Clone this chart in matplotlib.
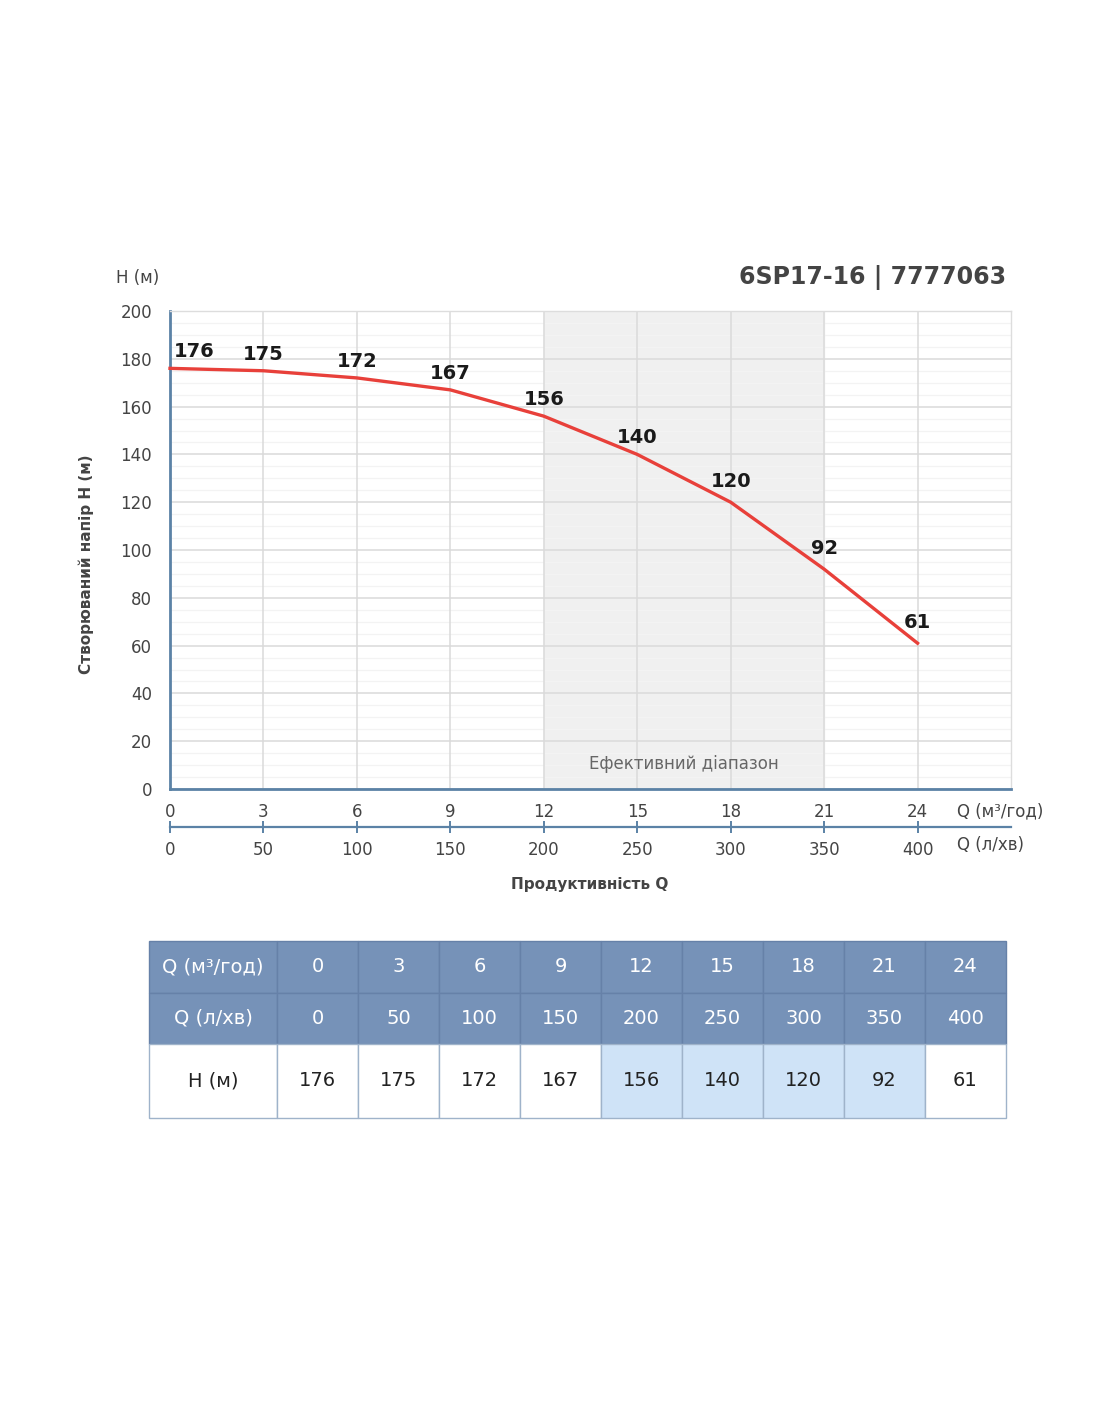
import matplotlib
matplotlib.use("Agg")
import matplotlib.pyplot as plt
from matplotlib.patches import Rectangle

plt.rcParams['font.family'] = ['DejaVu Sans']

# data
q_m3h = [0, 3, 6, 9, 12, 15, 18, 21, 24]
q_lmin = [0, 50, 100, 150, 200, 250, 300, 350, 400]
head_m = [176, 175, 172, 167, 156, 140, 120, 92, 61]
eff_range = (12, 21)  # efficient range in m3/h
title = "6SP17-16 | 7777063"

W, H = 1100, 1422
fig = plt.figure(figsize=(W / 100, H / 100), dpi=100)

def px_axes(left, top, right, bottom):
    return fig.add_axes([left / W, 1 - bottom / H, (right - left) / W, (bottom - top) / H])

axis_blue = '#5b82a6'
text_gray = '#444444'

# main chart
ax = px_axes(170, 311, 1011, 789)
ax.set_xlim(0, 27)
ax.set_ylim(0, 200)
ax.axvspan(eff_range[0], eff_range[1], color='#f0f0f0', zorder=0)
ax.set_yticks(range(0, 201, 20))
ax.set_yticks(range(0, 201, 5), minor=True)
ax.set_xticks(q_m3h)
ax.grid(which='minor', axis='y', color='#f3f3f3', lw=0.9)
ax.grid(which='major', axis='y', color='#dadada', lw=1.1)
ax.set_axisbelow(True)
# vertical grid on top of the horizontal minor lines
ax.vlines(q_m3h, 0, 200, colors='#dadada', lw=1.1, zorder=0.8)
for s in ('top', 'right'):
    ax.spines[s].set_color('#dddddd')
    ax.spines[s].set_linewidth(1.0)
for s in ('left', 'bottom'):
    ax.spines[s].set_color(axis_blue)
    ax.spines[s].set_linewidth(2.0)
ax.tick_params(axis='both', which='both', length=0, labelsize=12, colors=text_gray)
ax.tick_params(axis='y', pad=13)
ax.tick_params(axis='x', pad=10)

ax.plot(q_m3h, head_m, color='#e8403a', lw=2.4, zorder=4, clip_on=False,
        solid_joinstyle='round')
for i, (x, y) in enumerate(zip(q_m3h, head_m)):
    ha = 'left' if i == 0 else 'center'
    ax.annotate(str(y), (x, y), xytext=(3 if i == 0 else 0, 12 + (y < 130) * 3),
                textcoords='offset points', ha=ha, va='center',
                fontsize=14, fontweight='bold', color='#1a1a1a', zorder=5)

ax.text((eff_range[0] + eff_range[1]) / 2, 10.5, "Ефективний діапазон",
        ha='center', va='center', fontsize=12, color='#666666')

ax.set_ylabel("Створюваний напір H (м)", fontsize=11, fontweight='bold',
              color=text_gray)
ax.yaxis.set_label_coords(-0.09, 0.47)

# secondary flow axis (l/min)
ax2 = px_axes(170, 800, 1011, 827)
ax2.set_xlim(0, 27 * q_lmin[-1] / q_m3h[-1])
ax2.set_xticks(q_lmin)
ax2.set_yticks([])
ax2.patch.set_alpha(0)
for s in ('top', 'left', 'right'):
    ax2.spines[s].set_visible(False)
ax2.spines['bottom'].set_color(axis_blue)
ax2.spines['bottom'].set_linewidth(1.6)
ax2.tick_params(axis='x', direction='inout', length=8, width=1.4, color=axis_blue,
                labelsize=12, labelcolor=text_gray, pad=6)

fig.text(957 / W, 1 - 811 / H, "Q (м³/год)", ha='left', va='center', fontsize=12, color=text_gray)
fig.text(957 / W, 1 - 845 / H, "Q (л/хв)", ha='left', va='center', fontsize=12, color=text_gray)
fig.text(590 / W, 1 - 885 / H, "Продуктивність Q", ha='center', va='center',
         fontsize=11, fontweight='bold', color=text_gray)
fig.text(138 / W, 1 - 278 / H, "H (м)", ha='center', va='center', fontsize=12, color=text_gray)
fig.text(1006 / W, 1 - 277 / H, title, ha='right', va='center', fontsize=17,
         fontweight='bold', color=text_gray)

# table below the chart
tab = px_axes(149, 941, 1006, 1118)
tab.set_xlim(0, 857)
tab.set_ylim(177, 0)
tab.axis('off')
head_bg = '#7692b8'
hl_bg = '#cfe3f7'
first_w, col_w = 128, 81
row_tops = [0, 52, 103]
row_hs = [52, 51, 74]
row_names = ["Q (м³/год)", "Q (л/хв)", "H (м)"]
rows = [q_m3h, q_lmin, head_m]
for r, (name, vals) in enumerate(zip(row_names, rows)):
    top, h = row_tops[r], row_hs[r]
    is_head = r < 2
    cells = [name] + [str(v) for v in vals]
    for c, txt in enumerate(cells):
        x0 = 0 if c == 0 else first_w + (c - 1) * col_w
        w = first_w if c == 0 else col_w
        if is_head:
            fc, ec, tc = head_bg, '#6681a8', 'white'
        else:
            q = q_m3h[c - 1] if c > 0 else None
            in_eff = q is not None and eff_range[0] <= q <= eff_range[1]
            fc, ec, tc = (hl_bg if in_eff else 'white'), '#9fb3ca', '#222222'
        tab.add_patch(Rectangle((x0, top), w, h, facecolor=fc, edgecolor=ec, lw=1.0,
                                clip_on=False))
        tab.text(x0 + w / 2, top + h / 2, txt, ha='center', va='center',
                 fontsize=14, color=tc)

fig.savefig("out.png", dpi=100)
